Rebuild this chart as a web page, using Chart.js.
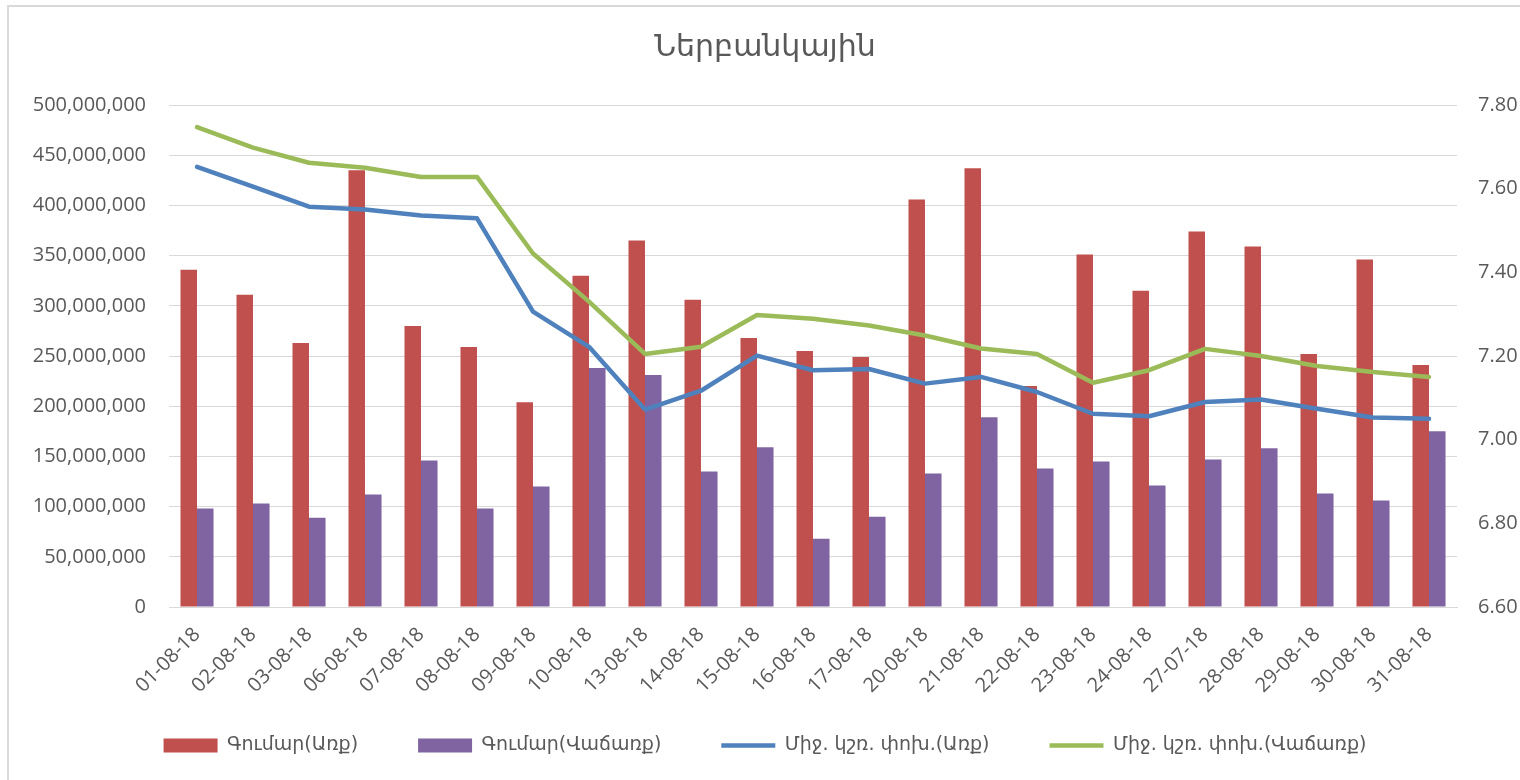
<!DOCTYPE html>
<html lang="hy">
<head>
  <meta charset="UTF-8" />
  <title>Ներբանկային</title>
  <script src="https://cdn.jsdelivr.net/npm/chart.js"></script>
  <style>
    body { margin: 0; padding: 0; background: #fff; }
    #wrap { width: 1520px; height: 780px; position: relative; }
  </style>
</head>
<body>
  <div id="wrap"><canvas id="chart"></canvas></div>

  <script>
    // Ամսաթվեր
    const dates = ['01-08-18', '02-08-18', '03-08-18', '06-08-18', '07-08-18', '08-08-18', '09-08-18',
      '10-08-18', '13-08-18', '14-08-18', '15-08-18', '16-08-18', '17-08-18', '20-08-18', '21-08-18',
      '22-08-18', '23-08-18', '24-08-18', '27-07-18', '28-08-18', '29-08-18', '30-08-18', '31-08-18'];

    // Գումար (Առք / Վաճառք)
    const buyAmount = [336000000, 311000000, 263000000, 435000000, 280000000, 259000000, 204000000,
      330000000, 365000000, 306000000, 268000000, 255000000, 249000000, 406000000, 437000000,
      220000000, 351000000, 315000000, 374000000, 359000000, 252000000, 346000000, 241000000];
    const sellAmount = [98000000, 103000000, 89000000, 112000000, 146000000, 98000000, 120000000,
      238000000, 231000000, 135000000, 159000000, 68000000, 90000000, 133000000, 189000000,
      138000000, 145000000, 121000000, 147000000, 158000000, 113000000, 106000000, 175000000];

    // Միջին կշռված փոխարժեք
    const buyRate = [7.652, 7.605, 7.557, 7.550, 7.536, 7.529, 7.306, 7.222, 7.072, 7.117, 7.201, 7.166,
      7.169, 7.134, 7.150, 7.114, 7.062, 7.056, 7.090, 7.096, 7.074, 7.053, 7.050];
    const sellRate = [7.747, 7.698, 7.662, 7.650, 7.628, 7.628, 7.445, 7.330, 7.205, 7.222, 7.298, 7.289,
      7.273, 7.249, 7.218, 7.205, 7.136, 7.166, 7.217, 7.200, 7.176, 7.162, 7.150];

    const seriesNames = ['Գումար(Առք)', 'Գումար(Վաճառք)', 'Միջ. կշռ. փոխ.(Առք)', 'Միջ. կշռ. փոխ.(Վաճառք)'];

    const textColor = '#595959';
    const gridColor = '#d9d9d9';
    const tickFont = { family: '"Open Sans", "DejaVu Sans", sans-serif', size: 20 };

    // սպիտակ ֆոն և շրջանակ
    const framePlugin = {
      id: 'frame',
      beforeDraw(chart) {
        const c = chart.ctx;
        c.save();
        c.fillStyle = '#fff';
        c.fillRect(0, 0, chart.width, chart.height);
        c.fillStyle = gridColor;
        c.fillRect(7, 5, chart.width - 7, 2);
        c.fillRect(7, 5, 2, chart.height - 5);
        c.restore();
      }
    };

    const ctx = document.getElementById('chart').getContext('2d');
    new Chart(ctx, {
      type: 'bar',
      data: {
        labels: dates,
        datasets: [
          { label: seriesNames[0], data: buyAmount, backgroundColor: '#C0504D', yAxisID: 'y', order: 2,
            categoryPercentage: 0.59, barPercentage: 1.0 },
          { label: seriesNames[1], data: sellAmount, backgroundColor: '#8064A2', yAxisID: 'y', order: 2,
            categoryPercentage: 0.59, barPercentage: 1.0 },
          { type: 'line', label: seriesNames[2], data: buyRate, borderColor: '#4F81BD', backgroundColor: '#4F81BD',
            borderWidth: 4.5, pointRadius: 0, tension: 0, yAxisID: 'y1', order: 1,
            borderJoinStyle: 'round', borderCapStyle: 'round' },
          { type: 'line', label: seriesNames[3], data: sellRate, borderColor: '#9BBB59', backgroundColor: '#9BBB59',
            borderWidth: 4.5, pointRadius: 0, tension: 0, yAxisID: 'y1', order: 1,
            borderJoinStyle: 'round', borderCapStyle: 'round' }
        ]
      },
      options: {
        responsive: true,
        maintainAspectRatio: false,
        animation: false,
        layout: { padding: { top: 6, left: 10, right: 0, bottom: 15 } },
        plugins: {
          title: {
            display: true,
            text: 'Ներբանկային',
            color: textColor,
            font: { family: '"DejaVu Sans", sans-serif', size: 30, weight: 'normal' },
            padding: { top: 24, bottom: 39 }
          },
          legend: {
            position: 'bottom',
            labels: {
              color: textColor,
              font: { family: '"DejaVu Sans", sans-serif', size: 19 },
              usePointStyle: true,
              pointStyleWidth: 54,
              boxHeight: 14,
              padding: 60,
              generateLabels(chart) {
                const items = Chart.defaults.plugins.legend.labels.generateLabels(chart);
                items.forEach(it => {
                  it.pointStyle = chart.data.datasets[it.datasetIndex].type === 'line' ? 'line' : 'rect';
                });
                return items.sort((a, b) => a.datasetIndex - b.datasetIndex);
              }
            }
          },
          tooltip: { enabled: false }
        },
        scales: {
          x: {
            grid: { display: false },
            border: { display: true, color: gridColor },
            ticks: {
              color: textColor, font: tickFont, autoSkip: false,
              minRotation: 45, maxRotation: 45, padding: 8
            },
            afterFit(scale) {
              scale.height = 69;
              // the labels go lower than the axis box, so they must not be clipped to it
              scale._computeLabelArea = () => null;
            }
          },
          y: {
            position: 'left',
            min: 0,
            max: 500000000,
            grid: { color: gridColor, drawTicks: false },
            border: { display: false },
            ticks: {
              stepSize: 50000000, color: textColor, font: tickFont, padding: 23,
              callback: v => Number(v).toLocaleString('en-US')
            },
            afterFit(scale) { scale.width = 159; }
          },
          y1: {
            position: 'right',
            min: 6.6,
            max: 7.8,
            grid: { drawOnChartArea: false, drawTicks: false },
            border: { display: false },
            ticks: {
              stepSize: 0.2, color: textColor, font: tickFont, padding: 21,
              callback: v => Number(v).toFixed(2)
            },
            afterFit(scale) { scale.width = 63; }
          }
        }
      },
      plugins: [framePlugin]
    });
  </script>
</body>
</html>
